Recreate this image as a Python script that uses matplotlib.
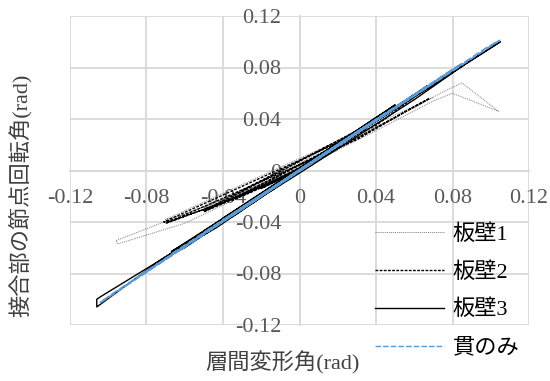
import matplotlib
matplotlib.use('Agg')
import matplotlib.pyplot as plt

plt.rcParams['font.family'] = ['Liberation Serif', 'Noto Sans CJK JP']

# 板壁1
x1 = [0, 0.010, 0.004, -0.010, -0.004, 0, 0.020, 0.010, -0.020, -0.010, 0, 0.035, 0.025, -0.035, -0.025, 0,
      0.050, 0.040, -0.050, -0.040, 0, 0.070, 0.060, -0.070, -0.060, 0, 0.075, 0.085, 0.104, 0.080, 0.070,
      0.040, 0, -0.050, -0.096, -0.095, -0.060, -0.020, 0]
y1 = [0, 0.008, 0.005, -0.006, -0.003, 0, 0.016, 0.010, -0.012, -0.007, 0.001, 0.029, 0.022, -0.021, -0.016, 0.001,
      0.041, 0.034, -0.029, -0.024, 0.001, 0.057, 0.050, -0.038, -0.034, 0.001, 0.061, 0.068, 0.046, 0.060, 0.054,
      0.031, 0.001, -0.028, -0.0545, -0.057, -0.041, -0.013, 0]

# 板壁2
x2 = [0, 0.005, 0.002, -0.005, -0.002, 0, 0.010, 0.006, -0.010, -0.006, 0, 0.010, 0.005, -0.010, -0.005, 0,
      0.020, 0.014, -0.020, -0.014, 0, 0.020, 0.013, -0.020, -0.013, 0,
      0.035, 0.028, -0.035, -0.028, 0, 0.035, 0.027, -0.035, -0.027, 0,
      0.050, 0.043, -0.050, -0.043, 0, 0.050, 0.042, -0.050, -0.042, 0,
      0.068, 0.060, 0.040, -0.071, -0.065, -0.040, 0, 0.068, 0.058, 0.030, -0.070, -0.066, -0.030, 0]
y2 = [0, 0.005, 0.002, -0.004, -0.002, 0, 0.010, 0.006, -0.007, -0.004, 0, 0.0095, 0.005, -0.0075, -0.004, 0,
      0.019, 0.013, -0.013, -0.009, 0, 0.018, 0.012, -0.014, -0.009, 0,
      0.034, 0.026, -0.022, -0.018, 0, 0.033, 0.025, -0.023, -0.018, 0,
      0.049, 0.041, -0.031, -0.027, 0, 0.048, 0.040, -0.032, -0.027, 0,
      0.066, 0.057, 0.035, -0.040, -0.038, -0.025, 0.001, 0.056, 0.048, 0.024, -0.041, -0.039, -0.019, 0]

# 板壁3
x3 = [0, 0.005, 0.002, -0.005, -0.002, 0, 0.005, 0.002, -0.005, -0.002, 0,
      0.010, 0.006, -0.010, -0.006, 0, 0.010, 0.005, -0.010, -0.005, 0,
      0.020, 0.014, -0.020, -0.014, 0, 0.020, 0.013, -0.020, -0.013, 0,
      0.030, 0.024, -0.030, -0.024, 0, 0.030, 0.023, -0.030, -0.023, 0,
      0.040, 0.033, -0.040, -0.033, 0, 0.040, 0.032, -0.040, -0.032, 0,
      0.050, 0.043, -0.050, -0.043, 0, 0.050, 0.042, -0.050, -0.042, 0,
      0.067, 0.060, -0.067, -0.060, 0, 0.067, 0.058, -0.067, -0.058, 0,
      0.086, 0.080, -0.075, -0.070, 0, 0.105, 0.086, 0.060, 0, -0.060,
      -0.104, -0.106, -0.106, -0.073, -0.030, 0]
y3 = [0, 0.005, 0.003, -0.005, -0.003, 0, 0.0055, 0.003, -0.0045, -0.002, 0,
      0.010, 0.007, -0.010, -0.007, 0, 0.011, 0.006, -0.009, -0.005, 0,
      0.020, 0.015, -0.020, -0.015, 0, 0.021, 0.014, -0.018, -0.012, 0,
      0.030, 0.025, -0.030, -0.025, 0, 0.031, 0.024, -0.028, -0.022, 0,
      0.040, 0.034, -0.040, -0.034, 0, 0.041, 0.033, -0.037, -0.030, 0,
      0.050, 0.044, -0.050, -0.044, 0, 0.051, 0.043, -0.047, -0.040, 0,
      0.065, 0.058, -0.065, -0.060, 0, 0.066, 0.056, -0.063, -0.055, 0,
      0.082, 0.078, -0.072, -0.068, 0, 0.100, 0.082, 0.055, -0.002, -0.058,
      -0.098, -0.100, -0.106, -0.070, -0.028, 0]

# 貫のみ
x4 = [0, 0.005, 0.003, -0.005, -0.003, 0, 0.010, 0.007, -0.010, -0.007, 0, 0.020, 0.016, -0.020, -0.016, 0,
      0.030, 0.026, -0.030, -0.026, 0, 0.040, 0.035, -0.040, -0.035, 0, 0.040, 0.034, -0.040, -0.034, 0,
      0.050, 0.045, -0.050, -0.045, 0, 0.050, 0.044, -0.050, -0.044, 0,
      0.067, 0.060, -0.067, -0.060, 0, 0.085, 0.080, -0.085, -0.080, 0, 0.1046, 0.098, -0.104, -0.098, 0]
y4 = [0, 0.0047, 0.0030, -0.0048, -0.0030, 0, 0.0096, 0.0070, -0.0097, -0.0070, 0, 0.0193, 0.0158, -0.0195,
      -0.0158, 0, 0.0290, 0.0256, -0.0292, -0.0256, 0, 0.0388, 0.0345, -0.0390, -0.0345, 0, 0.0392, 0.0338,
      -0.0386, -0.0340, 0, 0.0485, 0.0442, -0.0487, -0.0442, 0, 0.0490, 0.0436, -0.0483, -0.0436, 0,
      0.0652, 0.0590, -0.0650, -0.0590, 0, 0.0830, 0.0785, -0.0830, -0.0785, 0, 0.1010,
      0.0955, -0.1025, -0.0960, 0]

ticks = [-0.12, -0.08, -0.04, 0, 0.04, 0.08, 0.12]
tick_labels = ['-0.12', '-0.08', '-0.04', '0', '0.04', '0.08', '0.12']

grid_c = '#d9d9d9'
fig = plt.figure(figsize=(5.5, 3.81), dpi=100)
ax = fig.add_axes([70/550, 56/381, 459/550, 309/381])

ax.plot(x1, y1, color='#808080', lw=0.7, ls=(0, (1, 1)), label='板壁1')
ax.plot(x2, y2, color='black', lw=1.0, ls=(0, (2, 1)), label='板壁2')
ax.plot(x3, y3, color='black', lw=1.0, label='板壁3')
ax.plot(x4, y4, color='#5b9bd5', lw=1.3, ls=(0, (4, 1.5)), label='貫のみ')

ax.set_xlim(-0.12, 0.12)
ax.set_ylim(-0.12, 0.12)
ax.set_xticks(ticks)
ax.set_yticks(ticks)
ax.set_xticklabels(tick_labels)
ax.set_yticklabels(tick_labels)
ax.grid(True, color=grid_c, lw=1.3)
ax.set_axisbelow(True)
for s in ['top', 'right']:
    ax.spines[s].set_visible(False)
ax.spines['left'].set_position(('data', 0))
ax.spines['bottom'].set_position(('data', 0))
for s in ['left', 'bottom']:
    ax.spines[s].set_color(grid_c)
    ax.spines[s].set_linewidth(1.3)
    ax.spines[s].set_zorder(0.5)
ax.tick_params(length=0, pad=13, labelsize=16, labelcolor='#595959')

fig.text(282/550, 1 - 363/381, '層間変形角(rad)', fontsize=16, color='#404040', ha='center', va='center')
fig.text(20/550, 1 - 195/381, '接合部の節点回転角(rad)', fontsize=16, color='#404040', rotation=90,
         ha='center', va='center')

leg = fig.legend(loc='upper left', bbox_to_anchor=(375/550, 1 - 224/381), frameon=False, fontsize=16,
                 handlelength=3.1, handletextpad=0.4, labelspacing=0.78, borderpad=0, borderaxespad=0)
leg.get_lines()[3].set_linewidth(1.0)

plt.savefig('out.png', dpi=100)
